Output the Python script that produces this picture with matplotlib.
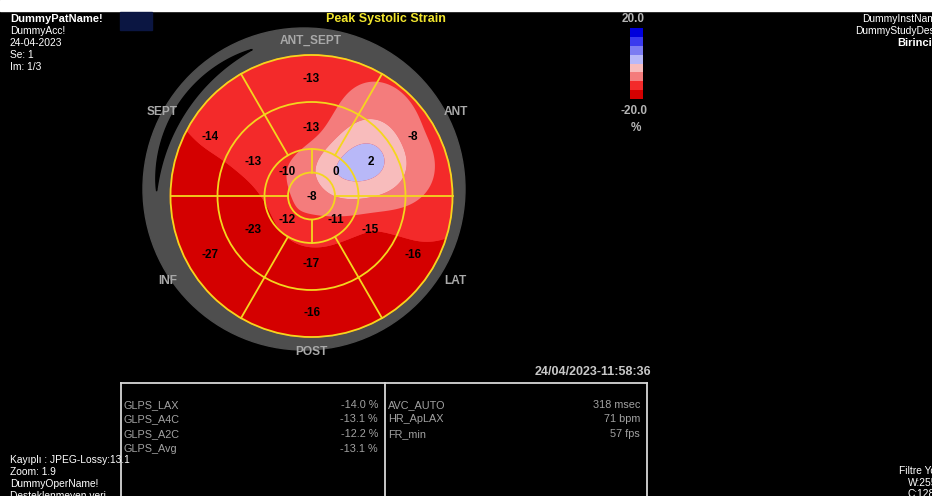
import numpy as np
import matplotlib.pyplot as plt
from matplotlib.patches import Circle, Rectangle, Polygon

W, H = 932, 496

# peak systolic strain per segment (%), 17-segment model
seg_angles6 = [90, 30, -30, -90, -150, 150]          # ANT_SEPT, ANT, LAT, POST, INF, SEPT
basal_vals = [-13, -8, -16, -16, -27, -14]
mid_vals = [-13, 2, -15, -17, -23, -13]
seg_angles4 = [45, -45, -135, 135]
apical_vals = [0, -11, -12, -10]
apex_val = -8

wall_names = ["ANT_SEPT", "ANT", "LAT", "POST", "INF", "SEPT"]

glps_names = ["GLPS_LAX", "GLPS_A4C", "GLPS_A2C", "GLPS_Avg"]
glps_vals = [-14.0, -13.1, -12.2, -13.1]
info_names = ["AVC_AUTO", "HR_ApLAX", "FR_min"]
info_vals = ["318 msec", "71 bpm", "57 fps"]

levels = [-20, -15, -10, -5, 0, 5, 10, 15, 20]
level_colors = ["#d40000", "#f32a2a", "#f47c7c", "#f8bcbc",
                "#b8b8f8", "#7c7cf2", "#3a3aee", "#0000dc"]

header_left = ["DummyPatName!", "DummyAcc!", "24-04-2023", "Se: 1", "Im: 1/3"]
header_right = ["DummyInstName", "DummyStudyDesc", "Birinci"]
footer_left = ["Kay\u0131pl\u0131 : JPEG-Lossy:13.1", "Zoom: 1.9", "DummyOperName!",
               "Desteklenmeyen veri"]
footer_right = ["Filtre Yok", "W:255", "C:128"]

FONT = "Liberation Sans"

cx, cy = 311.5, 196.0
R = 141.0
r_apex, r_apical, r_mid = 23.5, 47.0, 94.0


def pol(r, deg):
    t = np.radians(deg)
    return cx + r * np.cos(t), cy - r * np.sin(t)


def tps(px, py, vals, gx, gy):
    pts = np.column_stack([px, py])
    n = len(pts)
    d = np.linalg.norm(pts[:, None] - pts[None], axis=2)
    with np.errstate(divide="ignore", invalid="ignore"):
        K = np.where(d > 0, d ** 2 * np.log(d), 0.0)
    P = np.column_stack([np.ones(n), px, py])
    A = np.zeros((n + 3, n + 3))
    A[:n, :n] = K
    A[:n, n:] = P
    A[n:, :n] = P.T
    sol = np.linalg.solve(A, np.concatenate([vals, np.zeros(3)]))
    g = np.column_stack([gx.ravel(), gy.ravel()])
    dg = np.linalg.norm(g[:, None] - pts[None], axis=2)
    with np.errstate(divide="ignore", invalid="ignore"):
        Kg = np.where(dg > 0, dg ** 2 * np.log(dg), 0.0)
    z = Kg @ sol[:n] + sol[n] + sol[n + 1] * g[:, 0] + sol[n + 2] * g[:, 1]
    return z.reshape(gx.shape)


fig = plt.figure(figsize=(W / 100, H / 100), dpi=100)
fig.patch.set_facecolor("black")
ax = fig.add_axes([0, 0, 1, 1])
ax.set_xlim(0, W)
ax.set_ylim(H, 0)
ax.set_aspect("auto")
ax.axis("off")

ax.add_patch(Rectangle((0, 0), W, 11, color="white", zorder=0))
ax.add_patch(Rectangle((120, 12), 32, 18, color="#0b1642", zorder=1))

# grey frame around the bull's eye, with its slit on the septal side
ax.add_patch(Circle((304, 189), 161, color="#4e4e4e", zorder=1))
th = np.linspace(112, 178, 80)
t = (th - th[0]) / (th[-1] - th[0])
half = 5.0 * np.sin(np.pi * t) ** 0.8
rm = 158 - 3 * t
outer = [pol(r, a) for r, a in zip(rm + half, th)]
inner = [pol(r, a) for r, a in zip(rm - half, th)][::-1]
ax.add_patch(Polygon(outer + inner, closed=True, color="black", zorder=2))

# node positions at segment centres
node_r, node_a, node_v = [], [], []
for a, v in zip(seg_angles6, basal_vals):
    node_r.append(117.5); node_a.append(a); node_v.append(v)
for a, v in zip(seg_angles6, mid_vals):
    node_r.append(70.5); node_a.append(a); node_v.append(v)
for a, v in zip(seg_angles4, apical_vals):
    node_r.append(35.0); node_a.append(a); node_v.append(v)
node_r.append(0.0); node_a.append(0); node_v.append(apex_val)
nx = np.array([pol(r, a)[0] for r, a in zip(node_r, node_a)])
ny = np.array([pol(r, a)[1] for r, a in zip(node_r, node_a)])

gx, gy = np.meshgrid(np.linspace(cx - R - 2, cx + R + 2, 320),
                     np.linspace(cy - R - 2, cy + R + 2, 320))
z = tps((nx - cx) / R, (ny - cy) / R, np.array(node_v, float),
        (gx - cx) / R, (gy - cy) / R)
z = np.clip(z, -19.99, 19.99)

disk = Circle((cx, cy), R, transform=ax.transData, facecolor="none")
ax.add_patch(Circle((cx, cy), R, color=level_colors[1], zorder=2))
cs = ax.contourf(gx, gy, z, levels=levels, colors=level_colors, zorder=3,
                 antialiased=True)
cs.set_clip_path(disk)

# segment borders
yel = "#f4d61e"
for r in (R, r_mid, r_apical, r_apex):
    ax.add_patch(Circle((cx, cy), r, fill=False, ec=yel, lw=1.3, zorder=5))
for a in (0, 60, 120, 180, 240, 300):
    x0, y0 = pol(r_apical, a)
    x1, y1 = pol(R, a)
    ax.plot([x0, x1], [y0, y1], color=yel, lw=1.3, zorder=5)
for a in (0, 90, 180, 270):
    x0, y0 = pol(r_apex, a)
    x1, y1 = pol(r_apical, a)
    ax.plot([x0, x1], [y0, y1], color=yel, lw=1.3, zorder=5)

# segment values
lab = dict(fontfamily=FONT, fontweight="bold", fontsize=8.5, color="black",
           ha="center", va="center", zorder=6)
for a, v in zip(seg_angles6, basal_vals):
    ax.text(*pol(117, a), f"{v}", **lab)
for a, v in zip(seg_angles6, mid_vals):
    ax.text(*pol(68, a), f"{v}", **lab)
for a, v in zip(seg_angles4, apical_vals):
    ax.text(*pol(34, a), f"{v}", **lab)
ax.text(cx, cy + 1, f"{apex_val}", **lab)

# wall names
wall_pos = [(311, 41), (456, 112), (455, 281), (311, 352), (168, 281), (162, 112)]
for name, (x, y) in zip(wall_names, wall_pos):
    ax.text(x, y, name, fontfamily=FONT, fontweight="bold", fontsize=8.6,
            color="#a9a9a9", ha="center", va="center", zorder=6)

ax.text(386, 19, "Peak Systolic Strain", fontfamily=FONT, fontweight="bold",
        fontsize=9, color="#f2e62e", ha="center", va="center")

# colour scale
bar_top, bar_bot = 28, 99
step = (bar_bot - bar_top) / len(level_colors)
for i, c in enumerate(level_colors):
    ax.add_patch(Rectangle((630, bar_bot - (i + 1) * step), 13, step, color=c, lw=0))
ax.text(633, 19, f"{levels[-1]:.1f}", fontfamily=FONT, fontweight="bold",
        fontsize=8.5, color="#b4b4b4", ha="center", va="center")
ax.text(634, 111, f"{levels[0]:.1f}", fontfamily=FONT, fontweight="bold",
        fontsize=8.5, color="#b4b4b4", ha="center", va="center")
ax.text(636, 128, "%", fontfamily=FONT, fontweight="bold",
        fontsize=8.5, color="#b4b4b4", ha="center", va="center")

ax.text(651, 372, "24/04/2023-11:58:36", fontfamily=FONT, fontweight="bold",
        fontsize=9, color="#c8c8c8", ha="right", va="center")

# measurement table
lc = "#d8d8d8"
ax.plot([121, 647], [383, 383], color=lc, lw=1.3)
for x in (121, 384.5, 647):
    ax.plot([x, x], [383, H + 5], color=lc, lw=1.3)
tab = dict(fontfamily=FONT, fontsize=7.8, color="#a2a2a2", va="center")
row_y = [405, 419.5, 434, 449]
for y, n, v in zip(row_y, glps_names, glps_vals):
    ax.text(124, y, n, ha="left", **tab)
    ax.text(378, y, f"{v:.1f} %", ha="right", **tab)
for y, n, v in zip(row_y, info_names, info_vals):
    ax.text(388, y, n, ha="left", **tab)
    ax.text(640, y, v, ha="right", **tab)

# corner annotations
for i, s in enumerate(header_left):
    ax.text(10, 19 + 12 * i, s, fontfamily=FONT, fontsize=8 if i == 0 else 7.4,
            fontweight="bold" if i == 0 else "normal", color="white",
            ha="left", va="center")
for (x, y), s in zip([(862, 19), (855, 31), (897, 43)], header_right):
    ax.text(x, y, s, fontfamily=FONT, fontsize=7.4 if s != "Birinci" else 8,
            fontweight="bold" if s == "Birinci" else "normal", color="white",
            ha="left", va="center")
for i, s in enumerate(footer_left):
    ax.text(10, 460 + 12 * i, s, fontfamily=FONT, fontsize=7.4, color="white",
            ha="left", va="center", zorder=7)
for (x, y), s in zip([(899, 471), (908, 483), (908, 494)], footer_right):
    ax.text(x, y, s, fontfamily=FONT, fontsize=7.4, color="white",
            ha="left", va="center")

fig.savefig("out.png", dpi=100, facecolor="black")
